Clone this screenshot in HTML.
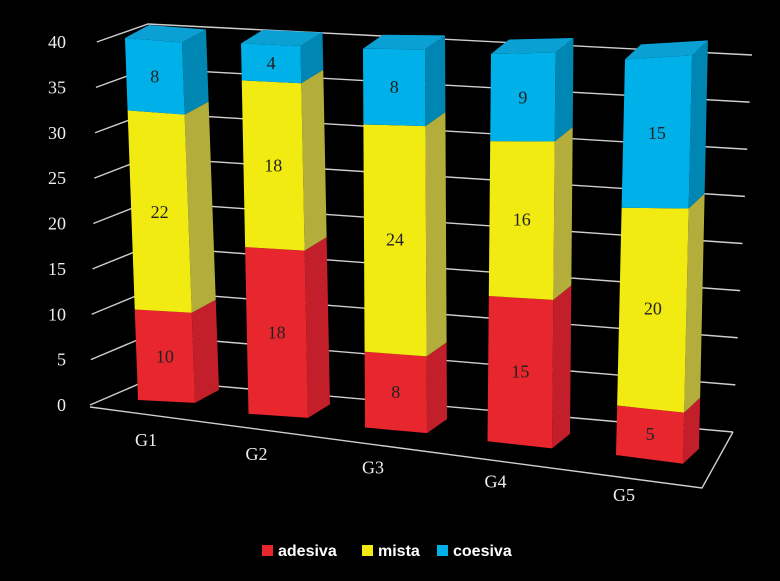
<!DOCTYPE html>
<html><head><meta charset="utf-8"><style>
html,body{margin:0;padding:0;background:#000;}
svg{display:block;}
</style></head><body>
<svg id="chart" width="780" height="581" viewBox="0 0 780 581" xmlns="http://www.w3.org/2000/svg">
<rect width="780" height="581" fill="#000"/>
<g id="grid"></g>
<g id="bars"></g>
<g id="axis"></g>
<g font-family="Liberation Sans, sans-serif" font-weight="bold" font-size="16" fill="#fff">
 <g><rect x="262" y="545" width="11" height="11" fill="#e8262e"/><text x="278" y="556">adesiva</text></g>
 <g><rect x="362" y="545" width="11" height="11" fill="#f2eb12"/><text x="378" y="556">mista</text></g>
 <g><rect x="437" y="545" width="11" height="11" fill="#00b0e8"/><text x="453" y="556">coesiva</text></g>
</g>
</svg>
<script>
const categories = ['G1','G2','G3','G4','G5'];
const adesiva = [10,18,8,15,5];
const mista = [22,18,24,16,20];
const coesiva = [8,4,8,9,15];
const yTicks = [0,5,10,15,20,25,30,35,40];
const yMax = 40;

const NS='http://www.w3.org/2000/svg';
function mk(tag, attrs, parent){const e=document.createElementNS(NS,tag);for(const k in attrs)e.setAttribute(k,attrs[k]);parent.appendChild(e);return e;}
const grid=document.getElementById('grid'), barsG=document.getElementById('bars'), axis=document.getElementById('axis');

function leftPt(v){return [90+0.17*v, 405-9.075*v];}
function cornerPt(v){return [148, 380-8.9*v];}
function rightPt(v){return [733+0.475*v, 432-9.425*v];}
yTicks.forEach(v=>{
  const a=leftPt(v), c=cornerPt(v), r=rightPt(v);
  const p=mk('polyline',{points:`${a[0]},${a[1]} ${c[0]},${c[1]} ${r[0]},${r[1]}`,fill:'none',stroke:'#cfcfcf','stroke-width':1.4},grid);
  
  
  const t=mk('text',{x:66,y:a[1]+6,'text-anchor':'end','font-family':'Liberation Serif, serif','font-size':18,fill:'#eee'},axis);
  t.textContent=v;
  
  
});
const floor=mk('polyline',{points:'90,407 702,488 733,432',fill:'none',stroke:'#cfcfcf','stroke-width':1.4},grid);



function geo(i){
  return {x:138+107.5*i+3*i*i, y:400+13.75*i, w:57+2.5*i, sb:0.05+0.02*i, st:0.08-0.035*i,
          k:9.05+0.21*i, lean:-13+5.5*i, dx:24-2*i, dy:-13-0.5*i};
}
function L(g,v){return [g.x+g.lean*v/yMax, g.y-g.k*v];}
function R(g,v){const l=L(g,v);const s=g.sb+(g.st-g.sb)*v/yMax;return [l[0]+g.w, l[1]+g.w*s];}
function poly(pts,fill,parent,name){const p=mk('polygon',{points:pts.map(q=>q.join(',')).join(' '),fill:fill},parent);return p;}

const series=[{name:'adesiva',vals:adesiva,front:'#e8262e',side:'#c21f2a'},
              {name:'mista',vals:mista,front:'#f2eb12',side:'#b3ae3c'},
              {name:'coesiva',vals:coesiva,front:'#00b0e8',side:'#0086b2'}];
categories.forEach((c,i)=>{
  const g=geo(i);
  const grp=mk('g',{},barsG);
  
  
  let base=0;
  series.forEach((s,si)=>{
    const v=s.vals[i], v0=base, v1=base+v;
    const l0=L(g,v0), r0=R(g,v0), l1=L(g,v1), r1=R(g,v1);
    poly([r0,[r0[0]+g.dx,r0[1]+g.dy],[r1[0]+g.dx,r1[1]+g.dy],r1],s.side,grp,'bar-'+c+'-'+s.name+'-side');
    poly([l0,r0,r1,l1],s.front,grp,'bar-'+c+'-'+s.name);
    const t=mk('text',{x:(l0[0]+r0[0]+l1[0]+r1[0])/4,y:(l0[1]+r0[1]+l1[1]+r1[1])/4+6,'text-anchor':'middle','font-family':'Liberation Serif, serif','font-size':18,fill:'#222'},grp);
    t.textContent=v;
    
    
    base=v1;
  });
  const lt=L(g,base), rt=R(g,base);
  poly([lt,rt,[rt[0]+g.dx,rt[1]+g.dy],[lt[0]+g.dx,lt[1]+g.dy]],'#0aa0d4',grp,'bar-'+c+'-top');
  const xl=mk('text',{x:g.x+8,y:g.y+46,'text-anchor':'middle','font-family':'Liberation Serif, serif','font-size':18,fill:'#eee'},axis);
  xl.textContent=c;
  
  
});
</script>
</body></html>
